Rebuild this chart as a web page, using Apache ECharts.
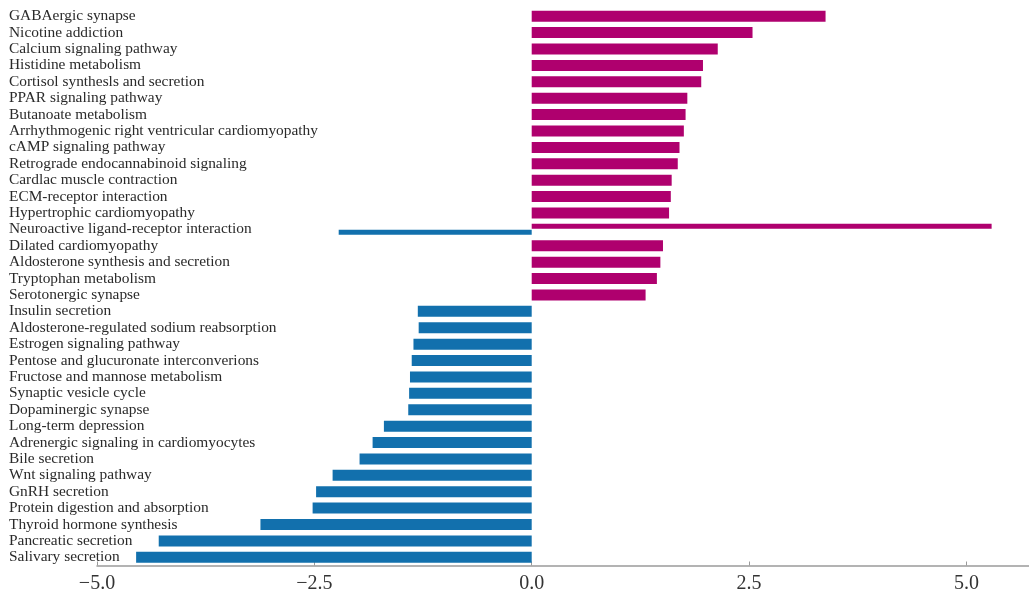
<!DOCTYPE html>
<html lang="en">
  <head>
    <meta charset="UTF-8" />
    <title>Pathway bar chart</title>
    <style>
      html, body { margin: 0; padding: 0; background: #fff; }
      #main { width: 1029px; height: 591px; }
    </style>
  </head>
  <body>
    <div id="main"></div>
    <script src="https://cdn.jsdelivr.net/npm/echarts@6/dist/echarts.min.js"></script>
    <script>
      // 通路名称（从上到下）
      var categories = [
        "GABAergic synapse",
        "Nicotine addiction",
        "Calcium signaling pathway",
        "Histidine metabolism",
        "Cortisol synthesls and secretion",
        "PPAR signaling pathway",
        "Butanoate metabolism",
        "Arrhythmogenic right ventricular cardiomyopathy",
        "cAMP signaling pathway",
        "Retrograde endocannabinoid signaling",
        "Cardlac muscle contraction",
        "ECM-receptor interaction",
        "Hypertrophic cardiomyopathy",
        "Neuroactive ligand-receptor interaction",
        "Dilated cardiomyopathy",
        "Aldosterone synthesis and secretion",
        "Tryptophan metabolism",
        "Serotonergic synapse",
        "Insulin secretion",
        "Aldosterone-regulated sodium reabsorption",
        "Estrogen signaling pathway",
        "Pentose and glucuronate interconverions",
        "Fructose and mannose metabolism",
        "Synaptic vesicle cycle",
        "Dopaminergic synapse",
        "Long-term depression",
        "Adrenergic signaling in cardiomyocytes",
        "Bile secretion",
        "Wnt signaling pathway",
        "GnRH secretion",
        "Protein digestion and absorption",
        "Thyroid hormone synthesis",
        "Pancreatic secretion",
        "Salivary secretion"
      ];
      // 上调（紫红色）
      var upValues = [
        3.38, 2.54, 2.14, 1.97, 1.95, 1.79, 1.77, 1.75, 1.70, 1.68, 1.61, 1.60,
        1.58, 5.29, 1.51, 1.48, 1.44, 1.31,
        null, null, null, null, null, null, null, null, null, null, null, null,
        null, null, null, null
      ];
      // 下调（蓝色）
      var downValues = [
        null, null, null, null, null, null, null, null, null, null, null, null,
        null, -2.22, null, null, null, null,
        -1.31, -1.30, -1.36, -1.38, -1.40, -1.41, -1.42, -1.70, -1.83, -1.98,
        -2.29, -2.48, -2.52, -3.12, -4.29, -4.55
      ];
      var xTicks = [-5, -2.5, 0, 2.5, 5];

      var upColor = "#af006e";
      var downColor = "#1270ad";

      // 同时有上调和下调的通路用细柱子画在第二个隐藏的类目轴上
      var upFull = [], downFull = [], upThin = [], downThin = [];
      for (var i = 0; i < categories.length; i++) {
        var both = upValues[i] != null && downValues[i] != null;
        upFull.push(both ? null : upValues[i]);
        downFull.push(both ? null : downValues[i]);
        upThin.push(both ? upValues[i] : null);
        downThin.push(both ? downValues[i] : null);
      }

      var chart = echarts.init(document.getElementById("main"));
      var option = {
        animation: false,
        grid: { left: 97, right: 0, top: 8, bottom: 25.5, outerBoundsMode: "none" },
        xAxis: {
          type: "value",
          min: -5,
          max: 5.72,
          interval: 2.5,
          splitLine: { show: false },
          axisLine: { show: true, lineStyle: { color: "#9a9a9a", width: 1.5 } },
          axisTick: { show: true, inside: true, length: 4, lineStyle: { color: "#9a9a9a" } },
          axisLabel: {
            margin: 8,
            fontFamily: "Liberation Serif",
            fontSize: 20,
            color: "#333",
            showMaxLabel: false,
            formatter: function (v) {
              if (xTicks.indexOf(v) < 0) return "";
              return (v < 0 ? "\u2212" : "") + Math.abs(v).toFixed(1);
            }
          }
        },
        yAxis: [
          {
            type: "category",
            inverse: true,
            data: categories,
            axisLine: { show: false, onZero: false },
            axisTick: { show: false },
            axisLabel: {
              interval: 0,
              align: "left",
              margin: 88,
              fontFamily: "Liberation Serif",
              fontSize: 15.4,
              color: "#2a2a2a"
            }
          },
          {
            type: "category",
            inverse: true,
            data: categories,
            show: false
          }
        ],
        series: [
          {
            type: "bar",
            stack: "full",
            data: upFull,
            barWidth: 11,
            itemStyle: { color: upColor }
          },
          {
            type: "bar",
            stack: "full",
            data: downFull,
            barWidth: 11,
            itemStyle: { color: downColor }
          },
          {
            type: "bar",
            yAxisIndex: 1,
            data: upThin,
            barWidth: 5,
            barGap: "20%",
            itemStyle: { color: upColor }
          },
          {
            type: "bar",
            yAxisIndex: 1,
            data: downThin,
            barWidth: 5,
            barGap: "20%",
            itemStyle: { color: downColor }
          }
        ]
      };
      chart.setOption(option);
    </script>
  </body>
</html>
